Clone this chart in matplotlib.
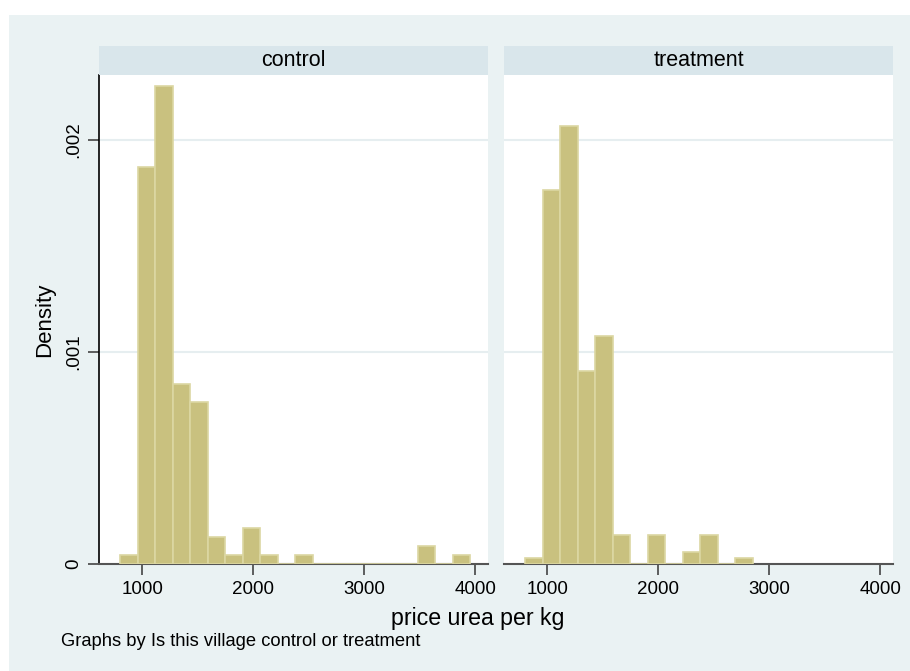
import matplotlib
matplotlib.use("Agg")
import matplotlib.pyplot as plt
from matplotlib.patches import Rectangle
import numpy as np

plt.rcParams['font.family'] = ['Liberation Sans', 'DejaVu Sans']

# Histogram bins (price urea per kg) and bin counts per group
bin_start = 800.0
bin_width = 157.75
groups = ["control", "treatment"]
control_counts = [1, 44, 53, 20, 18, 3, 1, 4, 1, 0, 1, 0, 0, 0, 0, 0, 0, 2, 0, 1]
treatment_counts = [1, 64, 75, 33, 39, 5, 0, 5, 0, 2, 5, 0, 1]
x_ticks = [1000, 2000, 3000, 4000]
y_ticks = [0, 0.001, 0.002]
y_tick_labels = ["0", ".001", ".002"]

W, H = 910, 671
BG = '#EAF2F3'
STRIP = '#D9E6EB'
BAR = '#C9C17F'
BAR_EDGE = '#DCD7A3'
GRID = '#E6EEF0'

fig = plt.figure(figsize=(W / 100, H / 100), dpi=100)
fig.patch.set_facecolor('white')
fig.add_artist(Rectangle((9 / W, 0), 1 - 9 / W, 1 - 15 / H, transform=fig.transFigure,
                         facecolor=BG, edgecolor='none', zorder=0))


def fx(px):
    return px / W


def fy(py):
    return 1 - py / H


panels = [(99, 488), (504, 893)]
top, bottom = 75, 564
strip_top = 46

for i, (name, counts) in enumerate(zip(groups, [control_counts, treatment_counts])):
    left, right = panels[i]
    ax = fig.add_axes([fx(left), fy(bottom), fx(right - left), (bottom - top) / H])
    ax.set_facecolor('white')
    counts = np.asarray(counts, dtype=float)
    density = counts / (counts.sum() * bin_width)
    edges = bin_start + bin_width * np.arange(len(counts))
    ax.bar(edges, density, width=bin_width, align='edge', color=BAR,
           edgecolor=BAR_EDGE, linewidth=1.2, zorder=3)
    ax.set_xlim(608, 4114)
    ax.set_ylim(0, 0.002307)
    for yt in y_ticks[1:]:
        ax.axhline(yt, color=GRID, linewidth=1.5, zorder=1)
    ax.set_xticks(x_ticks)
    ax.set_xticklabels([str(t) for t in x_ticks], fontsize=13.5)
    ax.tick_params(axis='x', length=8, width=1.2, color='#444444', pad=4,
                   labelcolor='black')
    for s in ['top', 'right']:
        ax.spines[s].set_visible(False)
    ax.spines['bottom'].set_color('#555555')
    ax.spines['bottom'].set_linewidth(1.5)
    if i == 0:
        ax.spines['left'].set_color('black')
        ax.spines['left'].set_linewidth(1.2)
        ax.set_yticks(y_ticks)
        ax.set_yticklabels(y_tick_labels, fontsize=13.5, rotation=90, va='center')
        ax.tick_params(axis='y', length=8, width=1.2, color='#444444', pad=4)
    else:
        ax.spines['left'].set_visible(False)
        ax.set_yticks([])
    # panel strip title
    fig.add_artist(Rectangle((fx(left), fy(top)), fx(right - left), (top - strip_top) / H,
                             transform=fig.transFigure, facecolor=STRIP,
                             edgecolor='none', zorder=1))
    fig.text(fx((left + right) / 2), fy((top + strip_top) / 2), name, fontsize=15.5,
             ha='center', va='center')

fig.text(fx(45), fy(320), "Density", rotation=90, fontsize=16, ha='center', va='center')
fig.text(fx(478), fy(618), "price urea per kg", fontsize=16.7, ha='center', va='center')
fig.text(fx(61), fy(642), "Graphs by Is this village control or treatment", fontsize=13.2,
         ha='left', va='center')

fig.savefig("out.png", dpi=100, facecolor=fig.get_facecolor())
